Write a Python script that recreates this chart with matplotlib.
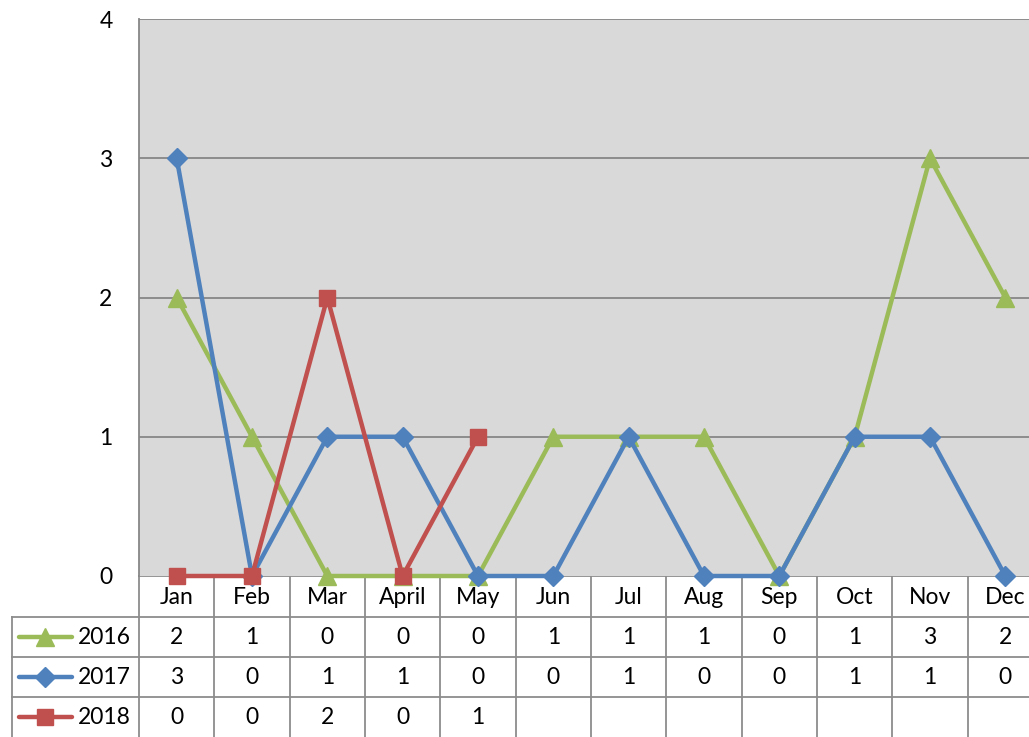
import matplotlib
matplotlib.use("Agg")
import matplotlib.pyplot as plt

plt.rcParams['font.family'] = ['Lato', 'DejaVu Sans']

months = ["Jan", "Feb", "Mar", "April", "May", "Jun", "Jul", "Aug", "Sep", "Oct", "Nov", "Dec"]
series_names = ["2016", "2017", "2018"]
vals_2016 = [2, 1, 0, 0, 0, 1, 1, 1, 0, 1, 3, 2]
vals_2017 = [3, 0, 1, 1, 0, 0, 1, 0, 0, 1, 1, 0]
vals_2018 = [0, 0, 2, 0, 1]
colors = ["#9bbb59", "#4f81bd", "#c0504d"]
markers = ["^", "D", "s"]
msizes = [13, 10, 12]
all_vals = [vals_2016, vals_2017, vals_2018]

W, H = 1029, 737
fig = plt.figure(figsize=(W / 100, H / 100), dpi=100)
fs = 16.5

# pixel layout of plot area (right edge runs past the image, as in the reference)
left, right, top, bottom = 139, 1043, 19, 576
ax = fig.add_axes([left / W, (H - bottom) / H, (right - left) / W, (bottom - top) / H])
ax.set_zorder(2)
ax.set_facecolor("#d9d9d9")
ax.set_xlim(-0.5, 11.5)
ax.set_ylim(0, 4)
grid_c = "#878787"
for y in [1, 2, 3, 4]:
    ax.axhline(y, color=grid_c, lw=1.3, zorder=1)
for s in ["right", "bottom", "top"]:
    ax.spines[s].set_visible(False)
ax.spines["left"].set_color(grid_c)
ax.spines["left"].set_linewidth(1.3)
ax.set_xticks([])
ax.set_yticks(range(5))
ax.set_yticklabels([str(v) for v in range(5)], fontsize=fs)
ax.tick_params(axis="y", length=0, pad=19)

for vals, c, m, ms in zip(all_vals, colors, markers, msizes):
    ax.plot(range(len(vals)), vals, color=c, lw=3.2, marker=m, ms=ms,
            markeredgecolor=c, clip_on=False, zorder=3)

# data table drawn in pixel coordinates
tb = fig.add_axes([0, 0, 1, 1])
tb.set_zorder(1)
tb.set_xlim(0, W)
tb.set_ylim(H, 0)
tb.axis("off")
tb.patch.set_visible(False)

col_w = (right - left) / 12
row_tops = [576, 617, 657, 697, 737]
tbl_left = 12
line_kw = dict(color="#8c8c8c", lw=1.3)

tb.plot([left, W], [row_tops[0], row_tops[0]], **line_kw)
for y in row_tops[1:4]:
    tb.plot([tbl_left, W], [y, y], **line_kw)
tb.plot([tbl_left, tbl_left], [row_tops[1], H], **line_kw)
for k in range(13):
    x = left + k * col_w
    tb.plot([x, x], [row_tops[0], H], **line_kw)

# header row
for k, mth in enumerate(months):
    tb.text(left + (k + 0.5) * col_w, (row_tops[0] + row_tops[1]) / 2 + 1, mth,
            ha="center", va="center", fontsize=fs)

# series rows
for i, (name, vals, c, m, ms) in enumerate(zip(series_names, all_vals, colors, markers, msizes)):
    yc = (row_tops[i + 1] + row_tops[i + 2]) / 2
    tb.plot([19, 72], [yc, yc], color=c, lw=3.2, solid_capstyle="round")
    tb.plot([45], [yc], marker=m, ms=ms, color=c, markeredgecolor=c)
    tb.text(78, yc, name, ha="left", va="center", fontsize=fs)
    for k, v in enumerate(vals):
        tb.text(left + (k + 0.5) * col_w, yc, str(v), ha="center", va="center", fontsize=fs)

fig.savefig("out.png", dpi=100)
